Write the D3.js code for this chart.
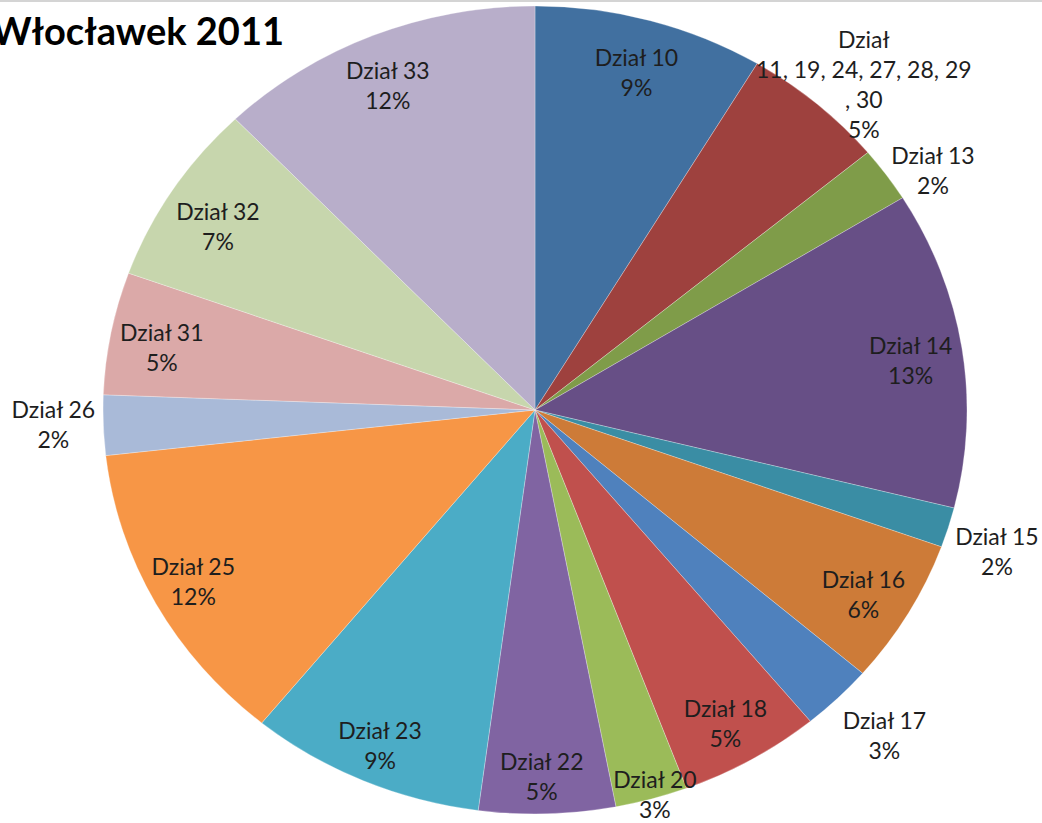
<!DOCTYPE html>
<html>
<head>
<meta charset="utf-8">
<script src="https://cdn.jsdelivr.net/npm/d3@7"></script>
<style>
  html, body { margin: 0; padding: 0; background: #fff; }
  svg { display: block; }
</style>
</head>
<body>
<svg id="chart" width="1042" height="823"></svg>
<script>
// ---- data ----
const title = "Włocławek 2011";
const categories = [
  "Dział 10", "Dział\n11, 19, 24, 27, 28, 29\n, 30", "Dział 13", "Dział 14", "Dział 15",
  "Dział 16", "Dział 17", "Dział 18", "Dział 20", "Dział 22", "Dział 23", "Dział 25",
  "Dział 26", "Dział 31", "Dział 32", "Dział 33"
];
const values = [8.6, 5.4, 2.2, 12.7, 1.6, 5.8, 2.7, 5.3, 2.7, 5.1, 8.8, 12.3, 2.4, 4.9, 7.3, 12.2];
const colors = [
  "#4170A0", "#9E413E", "#7F9C49", "#674F86", "#3A8DA4", "#CD7B38",
  "#4F81BD", "#C0504D", "#9BBB59", "#8064A2", "#4BACC6", "#F79646",
  "#A9BAD8", "#DBA9A8", "#C7D6AD", "#B8AECA"
];
// label placement: "in" inside slice, "out" outside, "edge" on the rim
const labelPlacement = ["in","out","out","in","out","in","out","in","edge","in","in","in","out","in","in","in"];

// ---- layout ----
const W = 1042, H = 823;
const cx = 535, cy = 410, rx = 432, ry = 404;
const svg = d3.select("#chart");

svg.append("line").attr("x1", 0).attr("x2", W).attr("y1", 1).attr("y2", 1)
  .attr("stroke", "#d4d4d4").attr("stroke-width", 2);

const total = d3.sum(values);
const pie = d3.pie().sort(null).value(d => d.v);
const data = categories.map((c, i) => ({ c, v: values[i], col: colors[i], p: labelPlacement[i] }));
const arcs = pie(data);
const arc = d3.arc().innerRadius(0).outerRadius(ry);

const g = svg.append("g").attr("transform", `translate(${cx},${cy}) scale(${rx / ry},1)`);
g.selectAll("path").data(arcs).join("path")
  .attr("d", arc)
  .attr("fill", d => d.data.col)
  .attr("stroke", "rgba(255,255,255,0.35)")
  .attr("stroke-width", 0.8)
  .attr("vector-effect", "non-scaling-stroke");

const factor = { in: 0.88, out: 1.125, edge: 0.985 };
// small label nudges (layout only), keyed by slice index
const nudge = { 1: [12, 14], 2: [3, 20], 4: [-3, 4], 6: [9, -4], 8: [5, -4], 9: [-4, 6], 10: [-4, 4], 11: [-8, -4], 12: [4, -8], 14: [2, 4], 15: [-5, 0] };
const lineH = 30;
const labels = svg.append("g")
  .style("font-family", "Lato, 'Noto Sans', sans-serif")
  .style("font-size", "23px")
  .attr("fill", "#1e1e1e");

arcs.forEach((a, idx) => {
  const mid = (a.startAngle + a.endAngle) / 2;
  const f = factor[a.data.p];
  const nd = nudge[idx] || [0, 0];
  const x = cx + rx * f * Math.sin(mid) + nd[0];
  const y = cy - ry * f * Math.cos(mid) + nd[1] + 5;
  const pct = Math.round(a.data.v / total * 100) + "%";
  const lines = a.data.c.split("\n").concat([pct]);
  const t = labels.append("text").attr("text-anchor", "middle");
  lines.forEach((ln, i) => {
    t.append("tspan").attr("x", x)
      .attr("y", y + (i - (lines.length - 1) / 2) * lineH)
      .attr("dominant-baseline", "central")
      .text(ln);
  });
});

svg.append("text")
  .attr("x", 284).attr("y", 45)
  .attr("text-anchor", "end")
  .style("font-family", "Lato, 'Noto Sans', sans-serif")
  .style("font-weight", "bold")
  .style("font-size", "38px")
  .attr("fill", "#000")
  .text(title);
</script>
</body>
</html>
